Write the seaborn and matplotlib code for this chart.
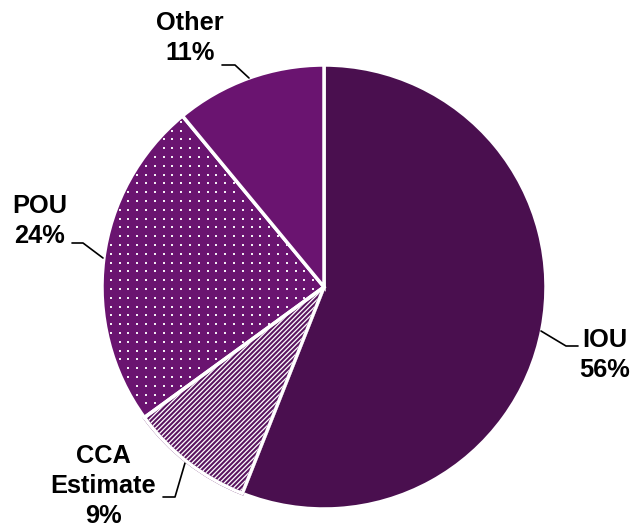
import matplotlib
matplotlib.use("Agg")
import matplotlib.pyplot as plt
import matplotlib.patches as mp
import numpy as np
import seaborn as sns

sns.set_theme(style="white")
plt.rcParams["font.family"] = ["Liberation Sans", "DejaVu Sans"]
plt.rcParams["hatch.linewidth"] = 1.5

# Market share by provider type
categories = ["IOU", "CCA\nEstimate", "POU", "Other"]
shares = [56, 9, 24, 11]
colors = ["#4a0f4f", "#ffffff", "#6a1470", "#6a1470"]

W, H = 631, 529
fig = plt.figure(figsize=(W / 100, H / 100), dpi=100)
ax = fig.add_axes([0, 0, 1, 1])

R = 222.0
cx, cy = 324.0, 287.0

wedges, _ = ax.pie(shares, colors=colors, startangle=90, counterclock=False,
                   radius=1.0, wedgeprops=dict(edgecolor="white", linewidth=2.5))

# striped wedge: purple hatching on white
a0 = 90 - 360 * shares[0] / 100
a1 = a0 - 360 * shares[1] / 100
wedges[1].set_hatch("///////")
wedges[1].set_edgecolor("#5a1560")
ax.add_patch(mp.Wedge((0, 0), 1.0, a1, a0, facecolor="none",
                      edgecolor="white", linewidth=2.5, zorder=4))

# dotted pattern on POU wedge
p0 = a1
p1 = p0 - 360 * shares[2] / 100
step = 8.8 / R
grid = np.arange(-1, 1, step)
gx, gy = np.meshgrid(grid, grid)
gx = gx.ravel(); gy = gy.ravel()
rr = np.hypot(gx, gy)
ang = np.degrees(np.arctan2(gy, gx)) % 360
lo, hi = p1 % 360, p0 % 360
inside = (rr < 0.985) & (ang > lo + 1.2) & (ang < hi - 1.2)
ax.scatter(gx[inside], gy[inside], s=2.4, color="#f4eef6", marker="s",
           linewidths=0, zorder=3)

ax.set_xlim(-cx / R, (W - cx) / R)
ax.set_ylim(-(H - cy) / R, cy / R)
ax.set_aspect("equal")
ax.axis("off")

def px(x, y):
    return ((x - cx) / R, (cy - y) / R)

txt = dict(fontsize=18.3, fontweight="bold", color="black", linespacing=1.33)
line = dict(color="black", lw=1.2)

# IOU
ax.plot(*zip(px(541, 331), px(566, 346), px(578, 346)), **line)
ax.text(*px(605, 355), "IOU\n56%", ha="center", va="center", **txt)
# CCA Estimate
ax.plot(*zip(px(185, 463), px(175, 497), px(163, 497)), **line)
ax.text(*px(103, 486), "CCA\nEstimate\n9%", ha="center", va="center", **txt)
# POU
ax.plot(*zip(px(72, 243), px(83, 243), px(103, 258)), **line)
ax.text(*px(40, 221), "POU\n24%", ha="center", va="center", **txt)
# Other
ax.plot(*zip(px(222, 65), px(235, 65), px(249, 78)), **line)
ax.text(*px(190, 38), "Other\n11%", ha="center", va="center", **txt)

fig.savefig("out.png", dpi=100)
